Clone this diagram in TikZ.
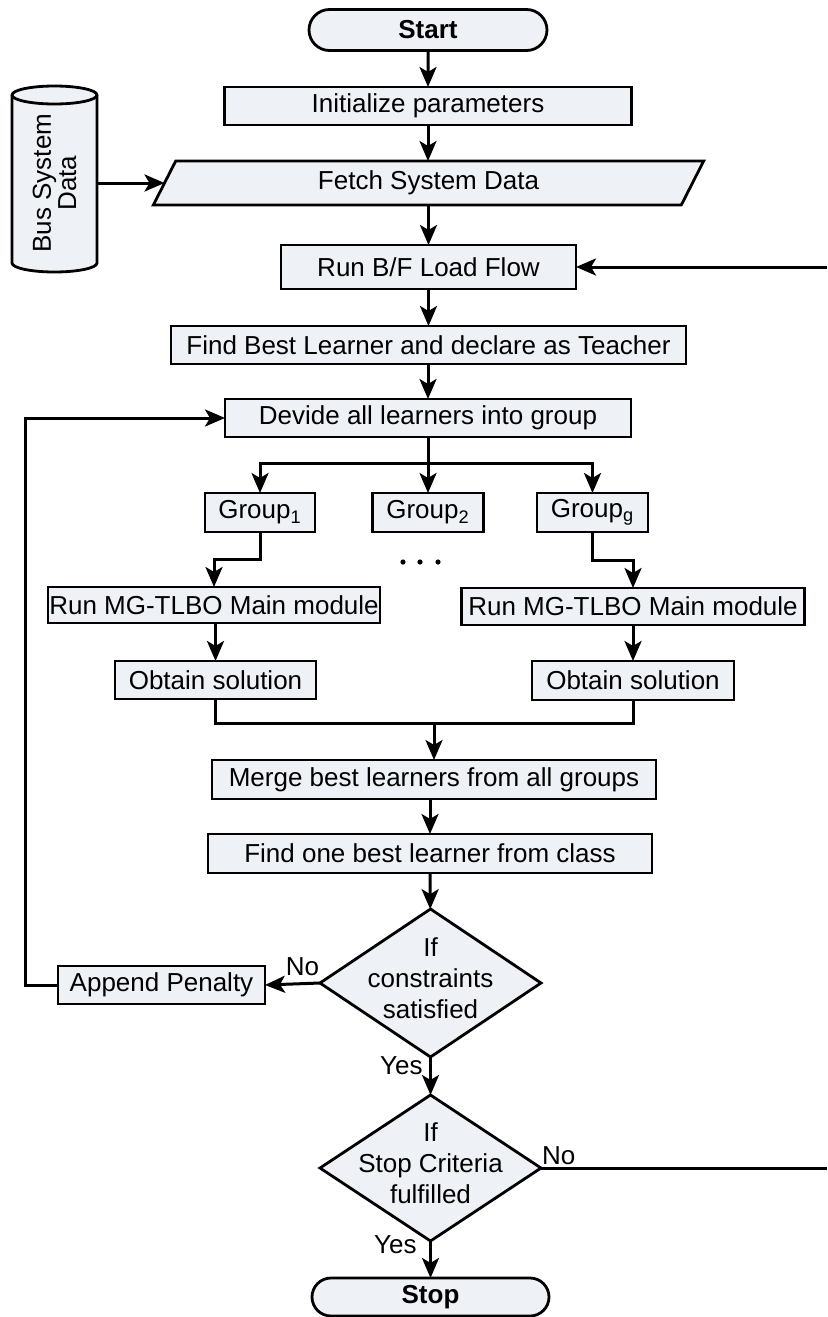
\documentclass[tikz,border=0pt]{standalone}
\usepackage{fontspec}
\setmainfont{Liberation Sans}
\usetikzlibrary{arrows.meta,shapes.geometric,shapes.misc,calc}
\definecolor{boxfill}{RGB}{238,241,246}
\newcommand\flowfont{\fontsize{13}{15.5}\selectfont}
\begin{document}
\begin{tikzpicture}[x=0.5pt,y=-0.5pt,
  font=\flowfont,
  every node/.style={inner sep=0pt, outer sep=0pt},
  box/.style={draw=black, fill=boxfill, line width=1.4pt},
  term/.style={box, rounded rectangle, font=\flowfont\bfseries},
  decision/.style={box, diamond},
  flow/.style={line width=1.5pt, -{Stealth[length=10pt,width=8.5pt,inset=2.5pt]}},
  plain/.style={line width=1.5pt},
  lbl/.style={inner sep=0pt}]
\useasboundingbox (0,0) rectangle (827,1317);

% data store drawn as an upright cylinder
\filldraw[fill=boxfill, line width=1.4pt]
  (12,95) -- (12,263) arc[start angle=180, end angle=360, x radius=21.25pt, y radius=4.5pt]
  -- (97,95) arc[start angle=0, end angle=180, x radius=21.25pt, y radius=4.5pt] -- cycle;
\draw[line width=1.4pt] (12,95) arc[start angle=180, end angle=360, x radius=21.25pt, y radius=4.5pt];
\node[rotate=90, minimum width=93pt, minimum height=42.5pt, align=center,
      font=\fontsize{13}{11.5}\selectfont] (bus) at (54.5,183) {Bus System\\Data};

% main column
\node[term, minimum width=119pt, minimum height=20.5pt] (start) at (428,30) {Start};
\node[box, minimum width=203.5pt, minimum height=19pt] (init) at (428,106) {Initialize parameters};
\node[box, trapezium, trapezium left angle=68, trapezium right angle=112,
      trapezium stretches=true, minimum width=275.5pt, minimum height=22pt]
      (fetch) at (428.5,183) {Fetch System Data};
\node[box, minimum width=147.5pt, minimum height=22pt] (runbf) at (428.5,267) {Run B/F Load Flow};
\node[box, minimum width=257.5pt, minimum height=19pt] (findbest) at (428.5,345) {Find Best Learner and declare as Teacher};
\node[box, minimum width=203pt, minimum height=19pt] (devide) at (428,418) {Devide all learners into group};

% groups
\node[box, minimum width=55pt, minimum height=19.5pt] (g1) at (260,512.5) {Group\textsubscript{1}};
\node[box, minimum width=55.5pt, minimum height=19.5pt] (g2) at (428,512.5) {Group\textsubscript{2}};
\node[box, minimum width=55.5pt, minimum height=19.5pt] (gg) at (592.5,512.5) {Group\textsubscript{g}};
\foreach \dx in {403,420,438} \fill (\dx,562) circle (1.3pt);

\node[box, minimum width=166pt, minimum height=18pt] (rm1) at (214,605) {Run MG-TLBO Main module};
\node[box, minimum width=171.5pt, minimum height=18.5pt] (rm2) at (633,606.5) {Run MG-TLBO Main module};
\node[box, minimum width=100.5pt, minimum height=19pt] (ob1) at (215.5,680) {Obtain solution};
\node[box, minimum width=101pt, minimum height=19.5pt] (ob2) at (633,680.5) {Obtain solution};

\node[box, minimum width=222pt, minimum height=19.5pt] (merge) at (434,779.5) {Merge best learners from all groups};
\node[box, minimum width=222pt, minimum height=19.5pt] (findone) at (430,853.5) {Find one best learner from class};

\node[decision, minimum width=110.5pt, minimum height=74pt,
      label={[align=center, yshift=2.5pt]center:If\\constraints\\satisfied}] (d1) at (430.5,983) {};
\node[box, minimum width=103.5pt, minimum height=19pt] (append) at (161.5,985) {Append Penalty};
\node[decision, minimum width=110.5pt, minimum height=73pt,
      label={[align=center, yshift=2.5pt]center:If\\Stop Criteria\\fulfilled}] (d2) at (430.5,1168) {};
\node[term, minimum width=118.5pt, minimum height=19pt] (stop) at (430.5,1297) {Stop};

% loop ends at the right edge
\coordinate (retin) at (827,267);
\coordinate (retout) at (827,1168);
\coordinate (split) at (428,463);
\coordinate (join) at (434,723);

% connectors
\draw[flow] (start) -- (init);
\draw[flow] (init) -- (init |- fetch.north);
\draw[flow] (bus.south |- fetch.west) -- (fetch.west);
\draw[flow] (fetch.south -| runbf) -- (runbf);
\draw[flow] (retin) -- (runbf.east);
\draw[flow] (runbf) -- (findbest);
\draw[flow] (devide.north |- findbest.south) -- (devide.north);
\draw[plain] (devide) -- (split);
\draw[flow] (split) -| (g1);
\draw[flow] (split) -- (g2);
\draw[flow] (split) -| (gg);
\draw[flow] (g1.south) -- ++(0,27) -| (rm1.north);
\draw[flow] (gg.south) -- ++(0,28) -| (rm2.north);
\draw[flow] (rm1.south -| ob1.north) -- (ob1.north);
\draw[flow] (rm2) -- (ob2);
\draw[plain] (ob1.south) |- (join) -| (ob2.south);
\draw[flow] (join) -- (merge);
\draw[flow] (findone.north |- merge.south) -- (findone.north);
\draw[flow] (findone) -- (d1);
\draw[flow] (d1.west) -- (append.east);
\draw[flow] (append.west) -- ++(-33,0) |- (devide.west);
\draw[flow] (d1.south) -- (d2.north);
\draw[plain] (d2.east) -- (retout);
\draw[flow] (d2.south) -- (stop.north);

% branch labels
\node[lbl, anchor=east] at ($(d1.west)+(-1,-16)$) {No};
\node[lbl, anchor=east] at ($(d1.south)+(-8,9)$) {Yes};
\node[lbl, anchor=west] at ($(d2.east)+(1,-12)$) {No};
\node[lbl, anchor=east] at ($(d2.south)+(-14,4)$) {Yes};
\end{tikzpicture}
\end{document}
